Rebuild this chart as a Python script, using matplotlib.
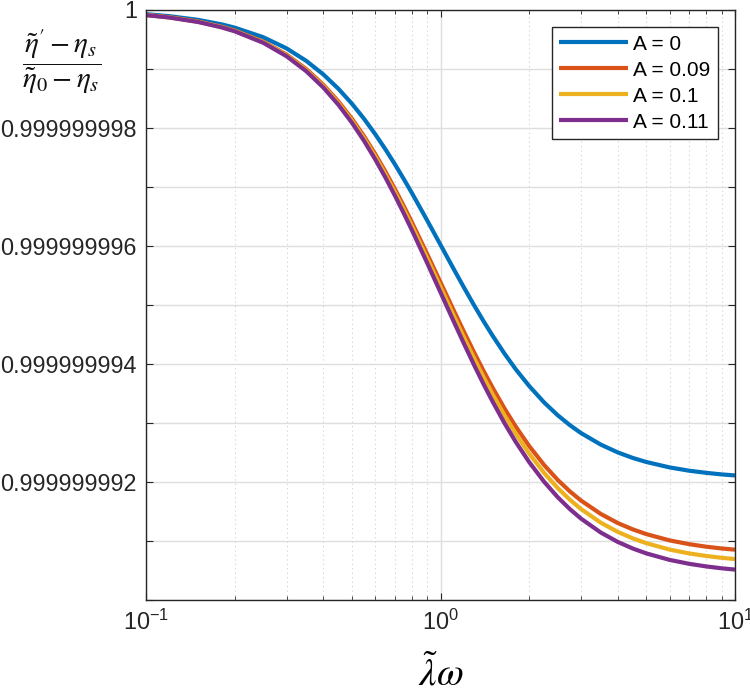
import matplotlib
matplotlib.use("Agg")
import matplotlib.pyplot as plt
import numpy as np

plt.rcParams['font.family'] = ['Liberation Sans', 'DejaVu Sans']
plt.rcParams['mathtext.fontset'] = 'custom'
plt.rcParams['mathtext.rm'] = 'Liberation Sans'
plt.rcParams['mathtext.it'] = 'Liberation Sans:italic'
plt.rcParams['mathtext.bf'] = 'Liberation Sans:bold'

# x values (lambda*omega) where the curves were read
omega = [0.1, 0.12, 0.15, 0.18, 0.2, 0.25, 0.3, 0.35, 0.4, 0.45, 0.5, 0.55, 0.6, 0.65,
         0.7, 0.75, 0.8, 0.9, 1.0, 1.1, 1.2, 1.3, 1.4, 1.5, 1.65, 1.8, 2.0, 2.25,
         2.5, 2.75, 3.0, 3.5, 4.0, 4.5, 5.0, 6.0, 7.0, 8.0, 9.0, 10.0]

# drop below 1, in units of 1e-9
drop_a0 = [0.079, 0.113, 0.175, 0.250, 0.307, 0.469, 0.658, 0.870, 1.099, 1.342, 1.594, 1.851,
           2.110, 2.367, 2.621, 2.869, 3.110, 3.567, 3.985, 4.364, 4.704, 5.008, 5.278, 5.518,
           5.829, 6.091, 6.376, 6.656, 6.871, 7.039, 7.173, 7.368, 7.501, 7.595, 7.663, 7.755,
           7.811, 7.847, 7.873, 7.891]
drop_a009 = [0.091, 0.131, 0.203, 0.290, 0.356, 0.543, 0.763, 1.008, 1.274, 1.556, 1.848, 2.146,
             2.446, 2.744, 3.039, 3.326, 3.605, 4.135, 4.620, 5.059, 5.453, 5.805, 6.119, 6.397,
             6.758, 7.061, 7.392, 7.716, 7.966, 8.161, 8.316, 8.542, 8.697, 8.805, 8.884, 8.991,
             9.055, 9.098, 9.127, 9.148]
drop_a01 = [0.093, 0.133, 0.207, 0.295, 0.362, 0.553, 0.776, 1.026, 1.296, 1.583, 1.880, 2.183,
            2.488, 2.792, 3.092, 3.384, 3.668, 4.207, 4.700, 5.147, 5.548, 5.906, 6.225, 6.508,
            6.875, 7.183, 7.520, 7.850, 8.104, 8.302, 8.460, 8.690, 8.847, 8.957, 9.038, 9.146,
            9.212, 9.255, 9.285, 9.307]
drop_a011 = [0.095, 0.136, 0.211, 0.301, 0.369, 0.563, 0.791, 1.045, 1.321, 1.613, 1.916, 2.224,
             2.536, 2.845, 3.151, 3.449, 3.738, 4.287, 4.790, 5.245, 5.654, 6.019, 6.344, 6.632,
             7.007, 7.321, 7.664, 8.000, 8.259, 8.461, 8.622, 8.857, 9.017, 9.129, 9.211, 9.321,
             9.388, 9.432, 9.463, 9.485]

labels = ['A = 0', 'A = 0.09', 'A = 0.1', 'A = 0.11']
colors = ['#0072BD', '#D95319', '#EDB120', '#7E2F8E']

ytick_vals = [1 - k * 1e-9 for k in range(11)]
ytick_text = ['1', '', '0.999999998', '', '0.999999996', '', '0.999999994', '',
              '0.999999992', '', '']

fig = plt.figure(figsize=(7.5, 6.96), dpi=100)
ax = fig.add_axes([146 / 750, 1 - 600 / 696, 589 / 750, 590.5 / 696])

for drop, lab, col in zip([drop_a0, drop_a009, drop_a01, drop_a011], labels, colors):
    y = 1 - np.array(drop) * 1e-9
    ax.plot(omega, y, color=col, lw=3, label=lab, solid_capstyle='butt')

ax.set_xscale('log')
ax.set_xlim(0.1, 10)
ax.set_ylim(1 - 1e-8, 1)
ax.set_yticks(ytick_vals)
ax.set_yticklabels(ytick_text)
ax.set_xticks([0.1, 1, 10])
ax.set_xticklabels([r'$10^{-1}$', r'$10^{0}$', r'$10^{1}$'])

ax.grid(True, which='major', color='#dedede', lw=1, ls='-')
ax.grid(True, which='minor', axis='x', color='#cfcfcf', lw=0.8, ls=(0, (1, 3)))
ax.set_axisbelow(True)

ax.tick_params(which='both', direction='in', top=True, right=True, colors='#262626')
ax.tick_params(which='major', length=5, width=0.8, labelsize=16.8)
ax.tick_params(which='minor', length=3, width=0.6)
ax.tick_params(axis='y', pad=6.5)
ax.tick_params(axis='x', pad=7)
for s in ax.spines.values():
    s.set_color('#262626')
    s.set_linewidth(1)

ax.set_xlabel(r'$\tilde{\lambda}\omega$', fontsize=28, math_fontfamily='stix', labelpad=14)
fig.text(62 / 750, 1 - 62 / 696, r"$\dfrac{\tilde{\eta}'-\eta_s}{\tilde{\eta}_0-\eta_s}$",
         fontsize=21, math_fontfamily='stix', ha='center', va='center', color='#111111')

leg = ax.legend(loc='upper right', bbox_to_anchor=(0.971, 0.970), borderaxespad=0,
                fontsize=15, handlelength=3.3, handletextpad=0.25, labelspacing=0.34,
                borderpad=0.35, fancybox=False, framealpha=1)
leg.get_frame().set_edgecolor('#262626')
leg.get_frame().set_linewidth(1)

fig.savefig('out.png', dpi=100)
